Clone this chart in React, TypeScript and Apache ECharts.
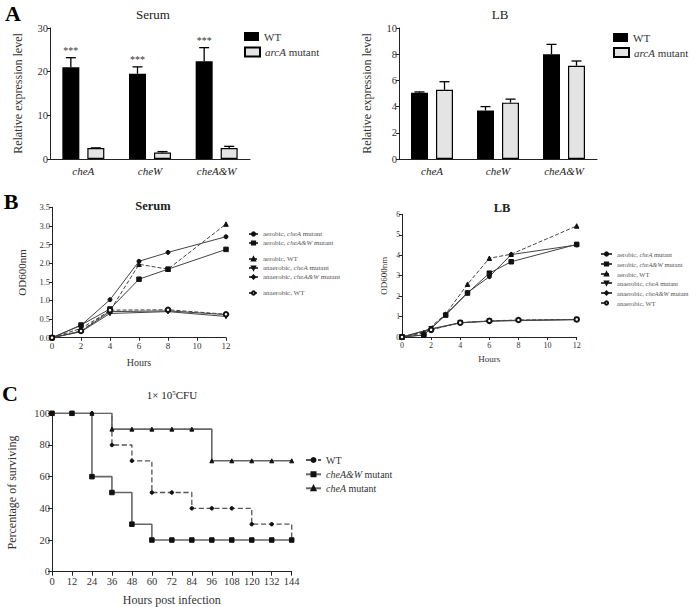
import React, { useEffect, useRef } from 'react';
import * as echarts from 'echarts';

const F = '"Liberation Serif", "Times New Roman", serif';

// ---------- Panel A ----------
const genes = ['cheA', 'cheW', 'cheA&W'];
const serumWT = [21.0, 19.5, 22.4];
const serumWTErr = [23.2, 21.1, 25.5];
const serumArcA = [2.5, 1.5, 2.5];
const serumArcAErr = [2.55, 1.7, 2.9];
const serumSig = ['***', '***', '***'];
const lbWT = [5.05, 3.7, 8.0];
const lbWTErr = [5.12, 4.0, 8.75];
const lbArcA = [5.28, 4.3, 7.12];
const lbArcAErr = [5.9, 4.57, 7.48];

// ---------- Panel B (Serum) ----------
const serumAerHours = [0, 2, 4, 6, 8, 12];
const serumAnaHours = [0, 2, 4, 8, 12];
const serumAerCheA = [0, 0.33, 1.02, 2.05, 2.29, 2.71];
const serumAerCheAW = [0, 0.34, 0.77, 1.57, 1.84, 2.37];
const serumAerWT = [0, 0.25, 0.72, 1.97, 1.84, 3.05];
const serumAnaCheA = [0, 0.16, 0.65, 0.7, 0.57];
const serumAnaCheAW = [0, 0.17, 0.7, 0.72, 0.62];
const serumAnaWT = [0, 0.18, 0.74, 0.75, 0.63];

// ---------- Panel B (LB) ----------
const lbAerHours = [0, 1.5, 3, 4.5, 6, 7.5, 12];
const lbAnaHours = [0, 2, 4, 6, 8, 12];
const lbAerCheA = [0, 0.1, 1.1, 2.17, 2.95, 4.03, 4.5];
const lbAerCheAW = [0, 0.1, 1.07, 2.15, 3.12, 3.68, 4.53];
const lbAerWT = [0, 0.2, 1.12, 2.58, 3.85, 4.05, 5.43];
const lbAnaCheA = [0, 0.4, 0.7, 0.78, 0.8, 0.85];
const lbAnaCheAW = [0, 0.38, 0.69, 0.77, 0.82, 0.85];
const lbAnaWT = [0, 0.35, 0.7, 0.79, 0.83, 0.86];

// ---------- Panel C ----------
const survHours = [0, 12, 24, 36, 48, 60, 72, 84, 96, 108, 120, 132, 144];
const survWT = [100, 100, 100, 80, 70, 50, 50, 40, 40, 40, 30, 30, 20];
const survCheAW = [100, 100, 60, 50, 30, 20, 20, 20, 20, 20, 20, 20, 20];
const survCheA = [100, 100, 100, 90, 90, 90, 90, 90, 70, 70, 70, 70, 70];

const legendText: Record<string, string> = {
  aWT: 'WT',
  aArc: '{i|arcA} mutant',
  aerCheA: 'aerobic, {i|cheA} mutant',
  aerCheAW: 'aerobic, {i|cheA&W} mutant',
  aerWT: 'aerobic, WT',
  anaCheA: 'anaerobic, {i|cheA} mutant',
  anaCheAW: 'anaerobic, {i|cheA&W} mutant',
  anaWT: 'anaerobic, WT',
  cWT: 'WT',
  cAW: '{i|cheA&W} mutant',
  cA: '{i|cheA} mutant',
};

const pairs = (xs: number[], ys: number[]) => xs.map((x, i) => [x, ys[i]]);

function valAxis(gridIndex: number, min: number, max: number, interval: number, o: any = {}) {
  return {
    type: 'value',
    gridIndex,
    min,
    max,
    interval,
    splitLine: { show: false },
    axisLine: { show: true, onZero: false, lineStyle: { color: '#222', width: 1 } },
    axisTick: { show: true, length: o.tickLen ?? 3, lineStyle: { color: '#222', width: 1 } },
    axisLabel: {
      fontFamily: F,
      fontWeight: 'normal',
      fontSize: o.labelSize ?? 10,
      color: '#333',
      margin: o.labelMargin ?? 2,
      formatter: o.formatter,
    },
    name: o.name,
    nameLocation: 'middle',
    nameGap: o.nameGap ?? 20,
    nameTextStyle: { fontFamily: F, fontWeight: 'normal', fontSize: o.nameSize ?? 11, color: '#333' },
  };
}

function catAxis(gridIndex: number) {
  return {
    type: 'category',
    gridIndex,
    data: genes,
    axisLine: { show: true, lineStyle: { color: '#222', width: 1 } },
    axisTick: { show: false },
    axisLabel: { fontFamily: F, fontSize: 11, fontStyle: 'italic', fontWeight: 'normal', color: '#222', margin: 6 },
    splitLine: { show: false },
  };
}

function errSeries(axis: number, vals: number[], errs: number[], offset: number, sig?: string[]) {
  return {
    type: 'custom',
    xAxisIndex: axis,
    yAxisIndex: axis,
    z: 5,
    clip: false,
    silent: true,
    data: vals.map((v, i) => [i, v, errs[i]]),
    renderItem: (params: any, api: any) => {
      const i = api.value(0);
      const base = api.coord([i, api.value(1)]);
      const top = api.coord([i, api.value(2)]);
      const cx = base[0] + offset;
      const children: any[] = [
        { type: 'line', shape: { x1: cx, y1: base[1], x2: cx, y2: top[1] }, style: { stroke: '#000', lineWidth: 1.3 } },
        { type: 'line', shape: { x1: cx - 5, y1: top[1], x2: cx + 5, y2: top[1] }, style: { stroke: '#000', lineWidth: 1.3 } },
      ];
      if (sig) {
        children.push({
          type: 'text',
          x: cx,
          y: top[1] - 2,
          style: {
            text: sig[params.dataIndex],
            fontFamily: F,
            fontSize: 10,
            fill: '#333',
            align: 'center',
            verticalAlign: 'bottom',
            textAlign: 'center',
            textVerticalAlign: 'bottom',
          },
        });
      }
      return { type: 'group', children };
    },
  };
}

function lineSeries(name: string, axis: number, xs: number[], ys: number[], symbol: string, o: any = {}) {
  return {
    type: 'line',
    name,
    xAxisIndex: axis,
    yAxisIndex: axis,
    data: pairs(xs, ys),
    symbol,
    symbolSize: o.size ?? 4,
    symbolRotate: o.rotate ?? 0,
    step: o.step,
    lineStyle: { color: o.lineColor ?? '#444', width: o.width ?? 1, type: o.dashed ? 'dashed' : 'solid' },
    itemStyle: { color: '#111', borderColor: '#111', borderWidth: 1 },
    z: 3,
  };
}

function mkLegend(name: string, left: number, cy: number, o: any) {
  const h = Math.max(o.itemHeight, o.lineHeight);
  return {
    data: [name],
    left,
    top: cy - h / 2,
    padding: 0,
    orient: 'vertical',
    itemWidth: o.itemWidth,
    itemHeight: o.itemHeight,
    selectedMode: false,
    icon: o.icon,
    formatter: (n: string) => legendText[n] ?? n,
    textStyle: {
      fontFamily: F,
      fontWeight: 'normal',
      fontSize: o.fontSize,
      lineHeight: o.lineHeight,
      color: o.color ?? '#333',
      rich: { i: { fontFamily: F, fontSize: o.fontSize, fontStyle: 'italic', color: o.color ?? '#333', lineHeight: o.lineHeight } },
    },
  };
}

function gtext(text: string, x: number, y: number, fontSize: number, o: any = {}) {
  return {
    type: 'text',
    x,
    y,
    style: {
      text,
      fontFamily: F,
      fontSize,
      fontWeight: o.bold ? 'bold' : 'normal',
      fill: o.fill ?? '#222',
      align: 'center',
      verticalAlign: 'middle',
      textAlign: 'center',
      textVerticalAlign: 'middle',
      rich: o.rich,
    },
  };
}

const bLegendNames = ['aerCheA', 'aerCheAW', 'aerWT', 'anaCheA', 'anaCheAW', 'anaWT'];
const serumLegendY = [234, 243, 259, 268, 277, 293];
const lbLegendY = [254, 264, 274, 283, 293, 303];

const option: any = {
  animation: false,
  backgroundColor: '#fff',
  textStyle: { fontFamily: F },
  grid: [
    { left: 50, top: 28, width: 200, height: 131 },
    { left: 399, top: 28, width: 198, height: 131 },
    { left: 52, top: 207.3, width: 174, height: 130.4 },
    { left: 402, top: 214.3, width: 174.7, height: 122.7 },
    { left: 52, top: 413.3, width: 239.7, height: 158.4 },
  ],
  xAxis: [
    catAxis(0),
    catAxis(1),
    valAxis(2, 0, 12, 2, { labelSize: 9, labelMargin: 4, name: 'Hours', nameGap: 20, nameSize: 10 }),
    valAxis(3, 0, 12, 2, { labelSize: 8, labelMargin: 4, name: 'Hours', nameGap: 17, nameSize: 9 }),
    valAxis(4, 0, 144, 12, { labelSize: 10.5, labelMargin: 4, tickLen: 4, name: 'Hours post infection', nameGap: 22, nameSize: 12 }),
  ],
  yAxis: [
    valAxis(0, 0, 30, 10, { labelSize: 10.5, name: 'Relative expression level', nameGap: 26, nameSize: 12 }),
    valAxis(1, 0, 10, 2, { labelSize: 10.5, name: 'Relative expression level', nameGap: 26, nameSize: 12 }),
    valAxis(2, 0, 3.5, 0.5, { labelSize: 8.5, name: 'OD600nm', nameGap: 25, nameSize: 11, formatter: (v: number) => v.toFixed(1) }),
    valAxis(3, 0, 6, 1, { labelSize: 7.5, name: 'OD600nm', nameGap: 14, nameSize: 9 }),
    valAxis(4, 0, 100, 20, { labelSize: 10.5, tickLen: 4, name: 'Percentage of surviving', nameGap: 34, nameSize: 12 }),
  ],
  legend: [
    mkLegend('aWT', 244, 36.5, { itemWidth: 15, itemHeight: 9, lineHeight: 12, fontSize: 11, icon: 'rect' }),
    mkLegend('aArc', 244, 52, { itemWidth: 15, itemHeight: 9, lineHeight: 12, fontSize: 11, icon: 'rect' }),
    mkLegend('aWT', 613, 37.5, { itemWidth: 15, itemHeight: 9, lineHeight: 12, fontSize: 11, icon: 'rect' }),
    mkLegend('aArc', 613, 52.5, { itemWidth: 15, itemHeight: 9, lineHeight: 12, fontSize: 11, icon: 'rect' }),
    ...bLegendNames.map((n, i) => mkLegend(n, 248, serumLegendY[i], { itemWidth: 9, itemHeight: 4, lineHeight: 8, fontSize: 7, color: '#555' })),
    ...bLegendNames.map((n, i) => mkLegend(n, 600, lbLegendY[i], { itemWidth: 11, itemHeight: 4, lineHeight: 8, fontSize: 6.5, color: '#555' })),
    mkLegend('cWT', 305, 460, { itemWidth: 15, itemHeight: 5, lineHeight: 12, fontSize: 10 }),
    mkLegend('cAW', 305, 474.3, { itemWidth: 15, itemHeight: 5, lineHeight: 12, fontSize: 10 }),
    mkLegend('cA', 305, 488.3, { itemWidth: 15, itemHeight: 5, lineHeight: 12, fontSize: 10 }),
  ],
  graphic: [
    gtext('A', 13, 13, 22, { bold: true, fill: '#000' }),
    gtext('B', 11, 201, 22, { bold: true, fill: '#000' }),
    gtext('C', 10, 393, 22, { bold: true, fill: '#000' }),
    gtext('Serum', 153, 14, 13),
    gtext('LB', 500, 14, 13),
    gtext('Serum', 153, 206, 12.5, { bold: true }),
    gtext('LB', 502, 208, 12.5, { bold: true }),
    gtext('1× 10{sup|5}CFU', 172, 395, 11, {
      rich: { sup: { fontFamily: F, fontSize: 7, verticalAlign: 'top', fill: '#222' } },
    }),
  ],
  series: [
    // Panel A - Serum
    { type: 'bar', name: 'aWT', xAxisIndex: 0, yAxisIndex: 0, data: serumWT, barWidth: 17, barGap: '47%', itemStyle: { color: '#000' } },
    { type: 'bar', name: 'aArc', xAxisIndex: 0, yAxisIndex: 0, data: serumArcA, barWidth: 17, barGap: '47%', itemStyle: { color: '#e4e4e4', borderColor: '#000', borderWidth: 1.2 } },
    errSeries(0, serumWT, serumWTErr, -12.5, serumSig),
    errSeries(0, serumArcA, serumArcAErr, 12.5),
    // Panel A - LB
    { type: 'bar', name: 'aWT', xAxisIndex: 1, yAxisIndex: 1, data: lbWT, barWidth: 17, barGap: '47%', itemStyle: { color: '#000' } },
    { type: 'bar', name: 'aArc', xAxisIndex: 1, yAxisIndex: 1, data: lbArcA, barWidth: 17, barGap: '47%', itemStyle: { color: '#e4e4e4', borderColor: '#000', borderWidth: 1.2 } },
    errSeries(1, lbWT, lbWTErr, -12.5),
    errSeries(1, lbArcA, lbArcAErr, 12.5),
    // Panel B - Serum
    lineSeries('aerCheA', 2, serumAerHours, serumAerCheA, 'circle', { size: 4 }),
    lineSeries('aerCheAW', 2, serumAerHours, serumAerCheAW, 'rect', { size: 4.5 }),
    lineSeries('aerWT', 2, serumAerHours, serumAerWT, 'triangle', { size: 4.5, dashed: true }),
    lineSeries('anaCheA', 2, serumAnaHours, serumAnaCheA, 'triangle', { size: 4.5, rotate: 180 }),
    lineSeries('anaCheAW', 2, serumAnaHours, serumAnaCheAW, 'diamond', { size: 5 }),
    lineSeries('anaWT', 2, serumAnaHours, serumAnaWT, 'emptyCircle', { size: 4.5, dashed: true }),
    // Panel B - LB
    lineSeries('aerCheA', 3, lbAerHours, lbAerCheA, 'circle', { size: 4 }),
    lineSeries('aerCheAW', 3, lbAerHours, lbAerCheAW, 'rect', { size: 4.5 }),
    lineSeries('aerWT', 3, lbAerHours, lbAerWT, 'triangle', { size: 4.5, dashed: true }),
    lineSeries('anaCheA', 3, lbAnaHours, lbAnaCheA, 'triangle', { size: 4.5, rotate: 180 }),
    lineSeries('anaCheAW', 3, lbAnaHours, lbAnaCheAW, 'diamond', { size: 5 }),
    lineSeries('anaWT', 3, lbAnaHours, lbAnaWT, 'emptyCircle', { size: 4.5, dashed: true }),
    // Panel C
    lineSeries('cWT', 4, survHours, survWT, 'circle', { size: 3.5, dashed: true, step: 'end', width: 1.3, lineColor: '#555' }),
    lineSeries('cAW', 4, survHours, survCheAW, 'rect', { size: 4.5, step: 'end', width: 1.6, lineColor: '#666' }),
    lineSeries('cA', 4, survHours, survCheA, 'triangle', { size: 4, step: 'end', width: 1.6, lineColor: '#666' }),
  ],
};

export default function App() {
  const ref = useRef<HTMLDivElement>(null);
  useEffect(() => {
    document.body.style.margin = '0';
    const chart = echarts.init(ref.current as HTMLDivElement, null, { renderer: 'svg' });
    chart.setOption(option);
    return () => chart.dispose();
  }, []);
  return <div ref={ref} style={{ position: 'absolute', left: 0, top: 0, width: 696, height: 607 }} />;
}
